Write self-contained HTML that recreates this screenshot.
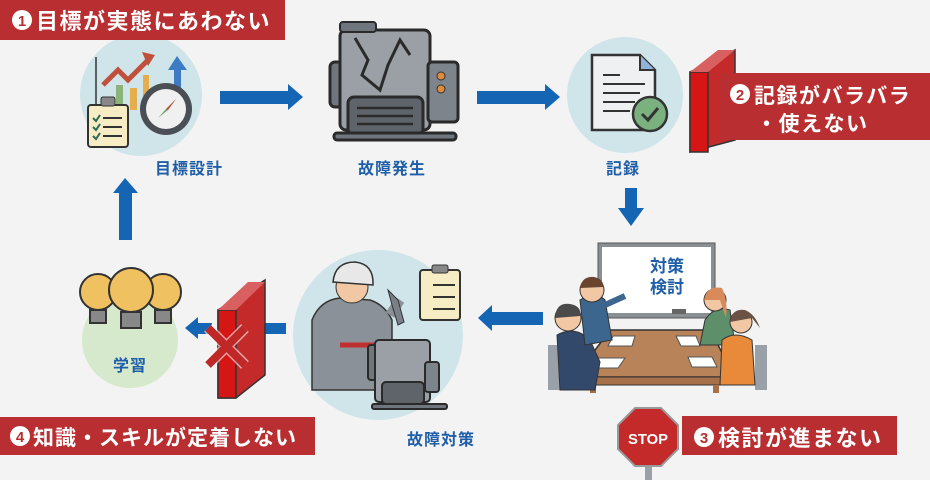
<!DOCTYPE html>
<html><head><meta charset="utf-8"><style>
html,body{margin:0;padding:0;background:#f3f3f3;}
svg{display:block}
text{font-family:"Liberation Sans","Noto Sans CJK JP",sans-serif;font-weight:bold}
</style></head><body>
<svg width="930" height="480" viewBox="0 0 930 480" xmlns="http://www.w3.org/2000/svg">
<rect width="930" height="480" fill="#f3f3f3"/>
<circle cx="141" cy="95" r="61" fill="#cfe5ea"/>
<circle cx="625" cy="95" r="58" fill="#cfe5ea"/>
<circle cx="130" cy="340" r="48" fill="#d7e9cd"/>
<circle cx="378" cy="335" r="85" fill="#cfe5ea"/>

<rect x="0" y="0" width="285" height="40" fill="#b92e30"/>
<circle cx="22" cy="20" r="10" fill="#fff"/><text x="22" y="26" font-size="15" fill="#b92e30" text-anchor="middle">1</text>
<text x="36" y="29" font-size="22" fill="#fff" letter-spacing="1.5">目標が実態にあわない</text>

<line x1="96" y1="57" x2="96" y2="110" stroke="#333" stroke-width="1.5"/>
<polyline points="103,85 118,70 128,80 148,60" fill="none" stroke="#c0503b" stroke-width="5"/>
<polygon points="142,52 155,55 148,66" fill="#c0503b"/>
<rect x="116" y="85" width="7" height="25" fill="#8ab47a"/>
<rect x="130" y="88" width="7" height="22" fill="#e6ad4c"/>
<rect x="143" y="75" width="6" height="35" fill="#e6ad4c"/>
<rect x="174" y="68" width="7" height="30" fill="#3d7cc4"/>
<polygon points="168,70 177,56 187,70" fill="#3d7cc4"/>
<rect x="88" y="105" width="40" height="42" rx="3" fill="#f6edc4" stroke="#333" stroke-width="2"/>
<rect x="101" y="97" width="14" height="9" rx="2" fill="#888" stroke="#333"/>
<g stroke="#333" stroke-width="2"><line x1="103" y1="118" x2="122" y2="118"/><line x1="103" y1="127" x2="122" y2="127"/><line x1="103" y1="136" x2="122" y2="136"/></g>
<g fill="none" stroke="#2f6b5a" stroke-width="2"><polyline points="93,118 96,121 100,115"/><polyline points="93,127 96,130 100,124"/><polyline points="93,136 96,139 100,133"/></g>
<circle cx="166" cy="109" r="26" fill="#4a4f55"/><circle cx="166" cy="109" r="20" fill="#f0f0f0"/>
<polygon points="158,118 166,109 176,99 168,110" fill="#6aa470"/><polygon points="176,99 166,109 168,110" fill="#c0503b"/>

<g fill="#1565b5">
<rect x="220" y="91" width="70" height="13"/><polygon points="288,84 303,97 288,110"/>
<rect x="477" y="91" width="70" height="13"/><polygon points="545,84 560,97 545,110"/>
<rect x="625" y="188" width="12" height="22"/><polygon points="618,208 644,208 631,226"/>
<rect x="490" y="312" width="53" height="13"/><polygon points="492,305 478,318 492,331"/>
<rect x="261" y="323" width="25" height="11"/><polygon points="263,317 250,328 263,339"/>
<rect x="196" y="323" width="16" height="11"/><polygon points="198,317 185,328 198,339"/>
<rect x="119" y="192" width="13" height="48"/><polygon points="113,193 125,178 138,193"/>
</g>

<g stroke="#2a2a2a" stroke-width="3">
<rect x="330" y="62" width="16" height="45" rx="5" fill="#6f767d"/>
<rect x="340" y="30" width="90" height="100" rx="6" fill="#9aa0a6"/>
<rect x="428" y="62" width="30" height="60" rx="4" fill="#7d848b"/>
<rect x="348" y="97" width="75" height="38" rx="6" fill="#5e646a"/>
<rect x="334" y="133" width="122" height="7" rx="3" fill="#6f767d"/>
</g>
<polyline points="355,38 368,60 362,75 380,90 388,65 400,40 410,55" fill="none" stroke="#2a2a2a" stroke-width="3"/>
<rect x="340" y="22" width="36" height="10" rx="3" fill="#6f767d" stroke="#2a2a2a" stroke-width="2"/>
<g stroke="#2a2a2a" stroke-width="2.5"><line x1="357" y1="108" x2="413" y2="108"/><line x1="357" y1="116" x2="413" y2="116"/><line x1="357" y1="124" x2="413" y2="124"/></g>
<circle cx="441" cy="76" r="4" fill="#e08a3c" stroke="#333"/><circle cx="441" cy="89" r="4" fill="#e08a3c" stroke="#333"/>

<path d="M592,55 H640 L655,70 V130 H592 Z" fill="#eef0f2" stroke="#333" stroke-width="2.5"/>
<path d="M640,55 V70 H655" fill="#8fb3d9" stroke="#333" stroke-width="2"/>
<g stroke="#333" stroke-width="2"><line x1="603" y1="75" x2="620" y2="75"/><line x1="603" y1="84" x2="645" y2="84"/><line x1="603" y1="93" x2="640" y2="93"/><line x1="603" y1="102" x2="635" y2="102"/><line x1="603" y1="111" x2="630" y2="111"/></g>
<circle cx="650" cy="114" r="17" fill="#7bb07f" stroke="#333" stroke-width="2.5"/>
<polyline points="642,114 648,120 658,108" fill="none" stroke="#333" stroke-width="3"/>

<polygon points="690,72 735,50 735,140 690,152" fill="#c42a2a" stroke="#333" stroke-width="1.5"/>
<rect x="690" y="72" width="18" height="80" fill="#d61515" stroke="#333" stroke-width="1.5"/>
<polygon points="690,72 708,72 735,50 718,50" fill="#d86060"/>
<rect x="720" y="73" width="210" height="67" fill="#b92e30"/>
<circle cx="740" cy="94" r="10" fill="#fff"/><text x="740" y="100" font-size="15" fill="#b92e30" text-anchor="middle">2</text>
<text x="754" y="103" font-size="21" fill="#fff" letter-spacing="1.5">記録がバラバラ</text>
<text x="756" y="131" font-size="21" fill="#fff" letter-spacing="1.5">・使えない</text>

<g font-size="16" fill="#1f5ea8" letter-spacing="1">
<text x="155" y="174">目標設計</text>
<text x="358" y="174">故障発生</text>
<text x="606" y="174">記録</text>
<text x="113" y="371">学習</text>
<text x="407" y="445">故障対策</text>
</g>

<rect x="598" y="243" width="117" height="75" fill="#8a8f94" stroke="#555"/>
<rect x="602" y="247" width="109" height="66" fill="#fff"/>
<text x="667" y="272" font-size="17" fill="#1f5ea8" text-anchor="middle">対策</text>
<text x="667" y="293" font-size="17" fill="#1f5ea8" text-anchor="middle">検討</text>
<rect x="672" y="309" width="14" height="5" fill="#666"/>
<polygon points="610,330 710,330 735,377 575,377" fill="#b98359" stroke="#333" stroke-width="1.5"/>
<rect x="575" y="377" width="160" height="8" fill="#a87048" stroke="#333"/>
<rect x="590" y="385" width="6" height="8" fill="#a87048"/><rect x="713" y="385" width="6" height="8" fill="#a87048"/>
<g fill="#fff" stroke="#555"><polygon points="613,336 635,336 632,346 608,346"/><polygon points="676,336 696,336 700,346 681,346"/><polygon points="598,358 625,358 618,368 590,368"/><polygon points="688,357 712,357 717,367 692,367"/></g>
<rect x="548" y="345" width="12" height="45" fill="#9aa0a8"/>
<path d="M557,335 Q575,325 590,340 L600,362 L595,390 L560,390 Z" fill="#33496b" stroke="#333"/>
<circle cx="568" cy="318" r="13" fill="#f1c7a4" stroke="#333"/><path d="M555,318 Q556,302 570,304 Q582,306 580,316 Z" fill="#4a4a4a"/>
<path d="M580,300 Q595,290 605,300 L612,340 L585,345 Z" fill="#3d668f" stroke="#333"/>
<line x1="605" y1="305" x2="625" y2="296" stroke="#3d668f" stroke-width="6"/>
<circle cx="592" cy="290" r="12" fill="#f1c7a4" stroke="#333"/><path d="M580,288 Q582,276 594,277 Q604,279 603,287 Z" fill="#6b4430"/>
<rect x="755" y="345" width="12" height="45" fill="#9aa0a8"/>
<path d="M705,320 Q715,305 730,310 L735,345 L700,345 Z" fill="#5d8f6b" stroke="#333"/>
<circle cx="715" cy="300" r="11" fill="#f1c7a4" stroke="#333"/><path d="M704,300 Q707,285 722,288 Q728,300 726,318 L720,300 Z" fill="#d98a5a"/>
<path d="M722,340 Q735,330 752,340 L755,385 L720,385 Z" fill="#e88a3a" stroke="#333"/>
<circle cx="741" cy="322" r="11" fill="#f1c7a4" stroke="#333"/><path d="M730,322 Q732,308 745,310 Q755,314 760,328 L752,318 Z" fill="#6b5244"/>

<path d="M312,320 Q320,300 340,298 L370,300 Q385,305 392,320 L392,390 L312,390 Z" fill="#8a9198" stroke="#333" stroke-width="1.5"/>
<line x1="390" y1="315" x2="400" y2="300" stroke="#8a9198" stroke-width="10"/>
<circle cx="352" cy="287" r="16" fill="#f1c7a4" stroke="#333"/>
<path d="M333,282 Q335,262 355,262 Q374,264 373,285 Z" fill="#e8e8e8" stroke="#333" stroke-width="1.5"/>
<path d="M388,290 L398,300 L404,322 L398,325 L392,305 Z" fill="#7a8088" stroke="#333"/>
<line x1="340" y1="345" x2="380" y2="345" stroke="#c03030" stroke-width="5"/>
<rect x="420" y="270" width="40" height="50" rx="3" fill="#f6edc4" stroke="#333" stroke-width="2"/>
<rect x="432" y="265" width="16" height="8" rx="2" fill="#888" stroke="#333"/>
<g stroke="#333" stroke-width="2"><line x1="433" y1="285" x2="455" y2="285"/><line x1="433" y1="297" x2="455" y2="297"/><line x1="433" y1="309" x2="455" y2="309"/></g>
<g stroke="#2a2a2a" stroke-width="2">
<rect x="368" y="345" width="10" height="35" rx="3" fill="#6f767d"/>
<rect x="375" y="340" width="55" height="62" rx="4" fill="#9aa0a6"/>
<rect x="425" y="362" width="14" height="30" rx="3" fill="#7d848b"/>
<rect x="382" y="382" width="42" height="22" rx="4" fill="#5e646a"/>
<rect x="372" y="404" width="75" height="5" rx="2" fill="#6f767d"/>
</g>

<g stroke="#333" stroke-width="2">
<circle cx="98" cy="292" r="18" fill="#f0c160"/><rect x="90" y="310" width="16" height="13" fill="#888"/>
<circle cx="163" cy="292" r="18" fill="#f0c160"/><rect x="155" y="310" width="16" height="13" fill="#888"/>
<circle cx="131" cy="290" r="22" fill="#f0c160"/><rect x="121" y="312" width="20" height="16" fill="#888"/>
</g>

<polygon points="218,310 265,280 265,375 236,398 218,398" fill="#c42a2a" stroke="#333" stroke-width="1.5"/>
<rect x="218" y="310" width="18" height="88" fill="#d61515" stroke="#333" stroke-width="1.5"/>
<polygon points="218,310 236,310 265,282 248,282" fill="#d86060"/>
<g stroke="#fff" stroke-width="11" opacity="0.6"><line x1="208" y1="328" x2="245" y2="365"/><line x1="245" y1="328" x2="208" y2="365"/></g>
<g stroke="#c02828" stroke-width="8"><line x1="208" y1="328" x2="245" y2="365"/><line x1="245" y1="328" x2="208" y2="365"/></g>

<rect x="0" y="417" width="315" height="38" fill="#b92e30"/>
<circle cx="20" cy="436" r="10" fill="#fff"/><text x="20" y="442" font-size="15" fill="#b92e30" text-anchor="middle">4</text>
<text x="33" y="445" font-size="21" fill="#fff" letter-spacing="1">知識・スキルが定着しない</text>

<rect x="645" y="460" width="7" height="20" fill="#9aa0a6"/>
<polygon points="635,408 661,408 678,425 678,449 661,466 635,466 618,449 618,425" fill="#c42a2a" stroke="#999" stroke-width="2"/>
<text x="648" y="444" font-size="15" fill="#fff" text-anchor="middle" font-weight="normal" textLength="40" lengthAdjust="spacingAndGlyphs">STOP</text>

<rect x="682" y="416" width="215" height="39" fill="#b92e30"/>
<circle cx="704" cy="437" r="10" fill="#fff"/><text x="704" y="443" font-size="15" fill="#b92e30" text-anchor="middle">3</text>
<text x="718" y="446" font-size="22" fill="#fff" letter-spacing="1.5">検討が進まない</text>
</svg>
</body></html>
